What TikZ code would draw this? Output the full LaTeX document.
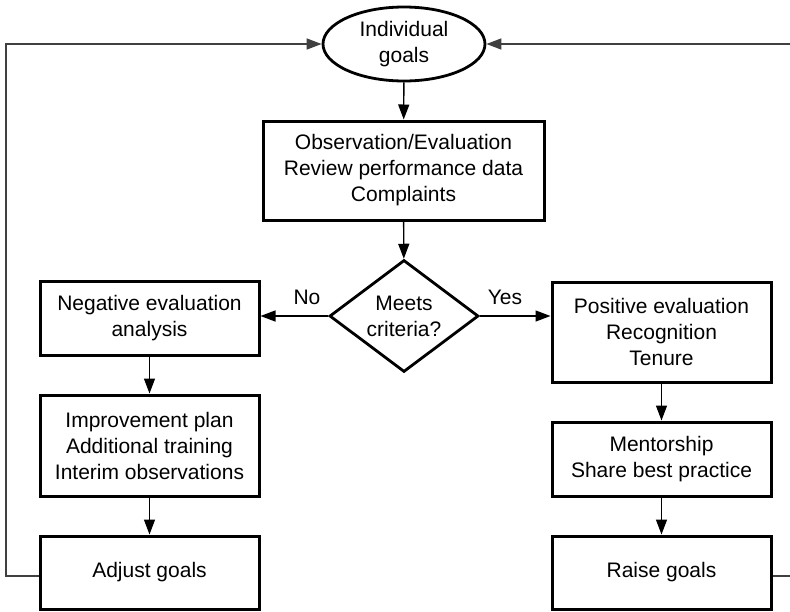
\documentclass[tikz,border=0pt]{standalone}
\usepackage{fontspec}
\setmainfont{Liberation Sans}
\usetikzlibrary{shapes.geometric,arrows.meta}

\tikzset{
  every node/.style={font=\fontsize{21}{26}\selectfont, align=center, inner sep=0pt},
  stepbox/.style={draw=black, line width=3pt, rectangle, minimum width=219pt},
  goalshape/.style={draw=black, line width=2.8pt, ellipse, minimum width=162pt, minimum height=74pt},
  decision/.style={draw=black, line width=2.8pt, diamond, minimum width=149pt, minimum height=112pt, aspect=1.33},
  flow/.style={draw=black, line width=1.4pt, -{Triangle[length=15pt,width=11pt]}},
  loopline/.style={draw=black!75, line width=1.6pt, -{Triangle[length=15pt,width=11pt]}},
  edgelabel/.style={font=\fontsize{21}{24}\selectfont}
}

\begin{document}
\begin{tikzpicture}[x=1pt,y=-1pt]
  \useasboundingbox (0,0) rectangle (790,611);
  \clip (0,0) rectangle (790,611);

  % main column
  \node[goalshape] (goals) at (404,44) {Individual\\goals};
  \node[stepbox, minimum width=281pt, minimum height=99pt] (obs) at (403.5,170.5)
    {Observation/Evaluation\\Review performance data\\Complaints};
  \node[decision] (crit) at (404,316) {Meets\\criteria?};

  % negative branch
  \node[stepbox, minimum height=74pt] (neg) at (149.5,318) {Negative evaluation\\analysis};
  \node[stepbox, minimum height=101pt] (imp) at (149.5,445.5)
    {Improvement plan\\Additional training\\Interim observations};
  \node[stepbox, minimum height=73pt] (adj) at (149.5,572.5) {Adjust goals};

  % positive branch
  \node[stepbox, minimum height=100pt] (pos) at (661.5,332) {Positive evaluation\\Recognition\\Tenure};
  \node[stepbox, minimum height=74pt] (men) at (661.5,459) {Mentorship\\Share best practice};
  \node[stepbox, minimum height=73pt] (rai) at (661.5,572.5) {Raise goals};

  % forward flow
  \draw[flow] (goals) -- (obs);
  \draw[flow] (obs) -- (crit);
  \draw[flow] (crit.west) -- (neg.east |- crit.west);
  \draw[flow] (crit.east) -- (pos.west |- crit.east);
  \draw[flow] (neg) -- (imp);
  \draw[flow] (imp) -- (adj);
  \draw[flow] (pos) -- (men);
  \draw[flow] (men) -- (rai);

  \node[edgelabel] (nolab) at (307,297) {No};
  \node[edgelabel] (yeslab) at (505,297) {Yes};

  % feedback loops back to the goals
  \coordinate (lbot) at (6,576);
  \coordinate (ltop) at (6,44);
  \coordinate (rbot) at (800,576);
  \coordinate (rtop) at (800,44);
  \draw[loopline] ([yshift=-3.5pt]adj.west) -- (lbot) -- (ltop) -- (goals.west);
  \draw[loopline] ([yshift=-3.5pt]rai.east) -- (rbot) -- (rtop) -- (goals.east);
\end{tikzpicture}
\end{document}
